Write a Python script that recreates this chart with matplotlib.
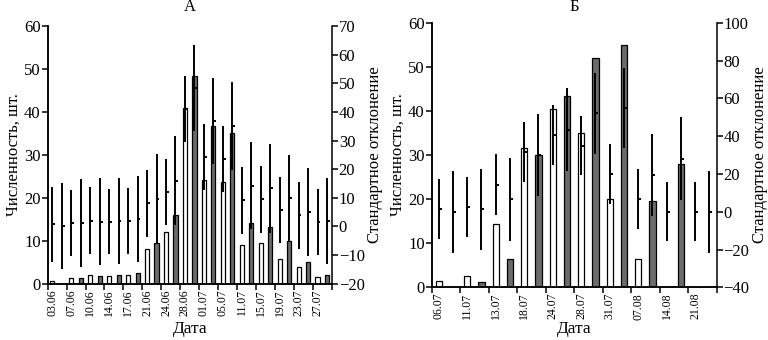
import matplotlib
matplotlib.use('Agg')
import matplotlib.pyplot as plt
import numpy as np

plt.rcParams['font.family'] = ['Liberation Serif', 'DejaVu Serif']

# Panel A: counts (white / grey bars) and standard deviations
dates_a = ['03.06', '07.06', '10.06', '14.06', '17.06', '21.06', '24.06', '28.06',
           '01.07', '05.07', '11.07', '15.07', '19.07', '23.07', '27.07']
white_a = [0.7, 1.2, 2.0, 1.7, 2.0, 8.0, 12.0, 41.0, 24.2, 23.6, 9.1, 9.5, 5.7, 3.8, 1.6]
gray_a = [0.0, 1.2, 1.7, 2.0, 2.5, 9.5, 16.0, 48.3, 36.8, 35.0, 14.2, 13.3, 10.0, 5.0, 2.0]
sd_white_a = [13.0, 11.5, 11.7, 11.5, 11.5, 11.7, 11.5, 11.5, 11.5, 11.5, 11.6, 11.7, 11.5, 11.6, 11.5]
sd_gray_a = [15.0, 15.3, 15.3, 15.0, 15.0, 15.7, 15.5, 15.0, 15.0, 15.4, 15.2, 15.6, 15.0, 15.5, 15.0]

# Panel B
dates_b = ['06.07', '11.07', '13.07', '18.07', '24.07', '28.07', '31.07', '07.08', '14.08', '21.08']
white_b = [1.5, 2.5, 14.3, 31.5, 40.5, 35.0, 20.0, 6.5, 0.0, 0.0]
gray_b = [0.0, 1.2, 6.5, 30.0, 43.3, 52.0, 55.0, 19.5, 28.0, 0.0]
sd_white_b = [16.0, 15.9, 16.0, 15.9, 15.9, 15.8, 16.0, 15.9, 15.7, 15.7]
sd_gray_b = [21.8, 21.6, 22.0, 21.7, 22.0, 21.6, 21.3, 21.8, 22.0, 21.8]

GREY = '#6b6b6b'


def draw_panel(fig, rect, title, dates, white, gray, sd_white, sd_gray,
               ylim2, yticks2, tick_len):
    ax = fig.add_axes(rect)
    ax2 = ax.twinx()
    n = len(dates)
    idx = np.arange(n)
    xw = idx + 0.25
    xg = idx + 0.75

    ax.bar(xw, white, width=0.22, color='white', edgecolor='black', linewidth=0.9)
    ax.bar(xg, gray, width=0.22, color=GREY, edgecolor='black', linewidth=0.9)

    # error bars: mean +/- sd on the right axis, short tick at the mean
    x_all = np.column_stack([xw, xg]).ravel()
    m_all = np.column_stack([white, gray]).ravel()
    s_all = np.column_stack([sd_white, sd_gray]).ravel()
    ax2.vlines(x_all, m_all - s_all, m_all + s_all, color='black', lw=1.4)
    ax2.hlines(m_all, x_all, x_all + tick_len, color='black', lw=1.4)

    ax.set_xlim(0, n)
    ax.set_ylim(0, 60)
    ax.set_yticks(np.arange(0, 61, 10))
    ax2.set_ylim(*ylim2)
    ax2.set_yticks(yticks2)

    ax.set_xticks(np.arange(n + 1))
    ax.set_xticklabels([])
    ax.set_xticks(xw, minor=True)
    ax.set_xticklabels(dates, minor=True, rotation=90, fontsize=8.5)
    ax.tick_params(axis='x', which='major', direction='out', length=4, width=1.1)
    ax.tick_params(axis='x', which='minor', length=0, pad=4)
    ax.tick_params(axis='y', direction='out', length=4, width=1.1, labelsize=12, pad=1)
    ax2.tick_params(axis='y', direction='out', length=4, width=1.1, labelsize=12, pad=1)

    for a in (ax, ax2):
        a.spines['top'].set_visible(False)
        for s in ('left', 'right', 'bottom'):
            a.spines[s].set_linewidth(1.1)
    ax.spines['right'].set_visible(False)

    ax.set_ylabel('Численность, шт.', fontsize=12, labelpad=2)
    ax2.set_ylabel('Стандартное отклонение', fontsize=12, labelpad=2)

    # title and x label at the same height for both panels
    cx = rect[0] + rect[2] / 2
    fig.text(cx, 1 - 7 / 340, title, fontsize=12, ha='center', va='center')
    fig.text(cx, 1 - 329 / 340, 'Дата', fontsize=12.5, ha='center', va='center')
    return ax, ax2


fig = plt.figure(figsize=(7.68, 3.40), dpi=100)
draw_panel(fig, [0.062, 0.166, 0.370, 0.757], 'А', dates_a, white_a, gray_a,
           sd_white_a, sd_gray_a, (-20, 70), np.arange(-20, 71, 10), 0.15)
draw_panel(fig, [0.562, 0.155, 0.371, 0.778], 'Б', dates_b, white_b, gray_b,
           sd_white_b, sd_gray_b, (-40, 100), np.arange(-40, 101, 20), 0.1)

fig.savefig('out.png', dpi=100)
